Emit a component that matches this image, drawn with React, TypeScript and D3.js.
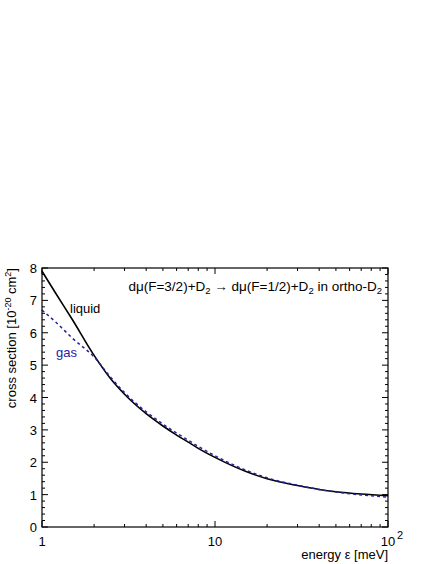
import React from "react";
import * as d3 from "d3";

const energy = [1, 1.2, 1.5, 2, 2.5, 3, 4, 5, 6, 7, 8, 10, 15, 20, 30, 40, 50, 70, 100];
const liquid = [7.9, 7.22, 6.4, 5.3, 4.57, 4.1, 3.5, 3.12, 2.84, 2.62, 2.43, 2.15, 1.72, 1.49, 1.28, 1.16, 1.09, 1.02, 0.97];
const gas = [6.7, 6.33, 5.83, 5.25, 4.62, 4.15, 3.56, 3.18, 2.9, 2.68, 2.49, 2.2, 1.76, 1.52, 1.29, 1.16, 1.08, 0.99, 0.92];
const yTicks = [0, 1, 2, 3, 4, 5, 6, 7, 8];
const xMajor = [1, 10, 100];

const W = 436, H = 564;
const L = 42, R = 388, T = 268, B = 527;
const FONT = "'Liberation Sans', Arial, sans-serif";
const BLUE = "#2323a6";

export default function App() {
  const x = d3.scaleLog().domain([1, 100]).range([L, R]);
  const y = d3.scaleLinear().domain([0, 8]).range([B, T]);
  const line = d3
    .line<number>()
    .x((_, i) => x(energy[i]))
    .y((d) => y(d))
    .curve(d3.curveMonotoneX);

  const xMinor: number[] = [];
  for (const dec of [1, 10]) for (let k = 2; k <= 9; k++) xMinor.push(dec * k);
  const yMinor: number[] = [];
  for (let v = 0; v < 8; v += 0.2) {
    const r = Math.round(v * 10) / 10;
    if (Math.abs(r - Math.round(r)) > 1e-6) yMinor.push(r);
  }
  const MJ = 6, MN = 3;

  return (
    <svg width={W} height={H} style={{ position: "absolute", left: 0, top: 0 }} fontFamily={FONT}>
      <rect x={0} y={0} width={W} height={H} fill="white" />
      <path d={line(liquid) || ""} fill="none" stroke="black" strokeWidth={1.6} />
      <path d={line(gas) || ""} fill="none" stroke={BLUE} strokeWidth={1.5} strokeDasharray="3,3" />
      <g stroke="black" strokeWidth={1}>
        {xMajor.map((v) => (
          <g key={"xm" + v}>
            <line x1={x(v)} x2={x(v)} y1={B} y2={B - MJ} />
            <line x1={x(v)} x2={x(v)} y1={T} y2={T + MJ} />
          </g>
        ))}
        {xMinor.map((v) => (
          <g key={"xn" + v}>
            <line x1={x(v)} x2={x(v)} y1={B} y2={B - MN} />
            <line x1={x(v)} x2={x(v)} y1={T} y2={T + MN} />
          </g>
        ))}
        {yTicks.map((v) => (
          <g key={"ym" + v}>
            <line x1={L} x2={L + MJ} y1={y(v)} y2={y(v)} />
            <line x1={R} x2={R - MJ} y1={y(v)} y2={y(v)} />
          </g>
        ))}
        {yMinor.map((v) => (
          <g key={"yn" + v}>
            <line x1={L} x2={L + MN} y1={y(v)} y2={y(v)} />
            <line x1={R} x2={R - MN} y1={y(v)} y2={y(v)} />
          </g>
        ))}
        <rect x={L} y={T} width={R - L} height={B - T} fill="none" strokeWidth={1.2} />
      </g>
      <g fontSize={13} fill="black">
        {yTicks.map((v) => (
          <text key={"yl" + v} x={L - 5} y={y(v) + 5} textAnchor="end">
            {v}
          </text>
        ))}
        <text x={x(1)} y={546} textAnchor="middle">1</text>
        <text x={x(10)} y={546} textAnchor="middle">10</text>
        <text x={x(100)} y={546} textAnchor="middle">10</text>
        <text x={x(100) + 9} y={539} fontSize={11}>2</text>
        <text x={R} y={559} textAnchor="end">energy ε [meV]</text>
        <text transform={`translate(16,${T}) rotate(-90)`} textAnchor="end">
          cross section [10<tspan dy={-5} fontSize={9}>-20</tspan>
          <tspan dy={5}> cm</tspan>
          <tspan dy={-5} fontSize={9}>2</tspan>
          <tspan dy={5}>]</tspan>
        </text>
        <text x={382} y={291} textAnchor="end" fontSize={13.5}>
          dμ(F=3/2)+D<tspan dy={3} fontSize={9.5}>2</tspan>
          <tspan dy={-3}> → dμ(F=1/2)+D</tspan>
          <tspan dy={3} fontSize={9.5}>2</tspan>
          <tspan dy={-3}> in ortho-D</tspan>
          <tspan dy={3} fontSize={9.5}>2</tspan>
        </text>
        <text x={70} y={313}>liquid</text>
        <text x={56} y={357} fill={BLUE}>gas</text>
      </g>
    </svg>
  );
}
